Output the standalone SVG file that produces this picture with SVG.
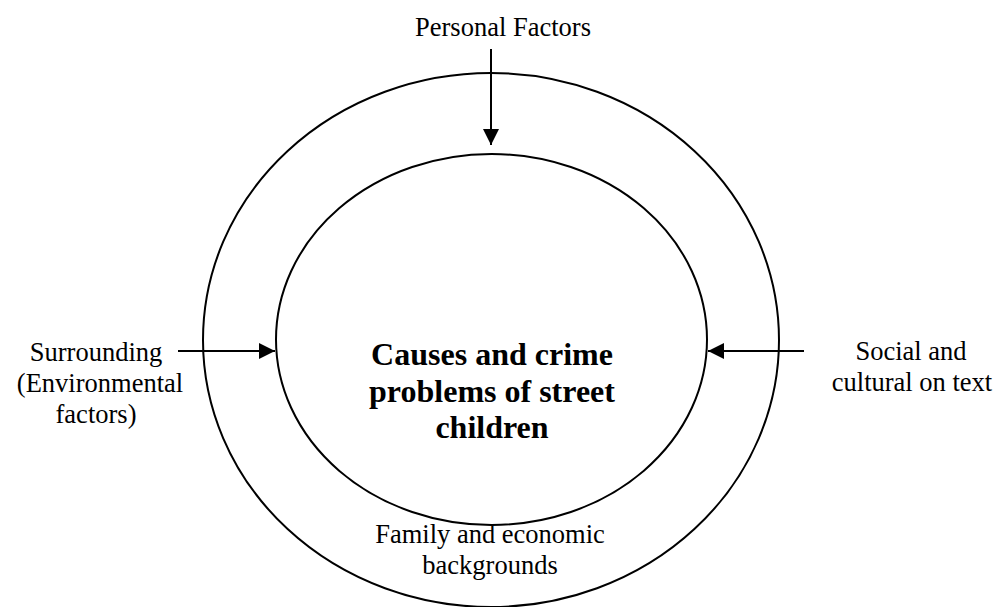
<svg xmlns="http://www.w3.org/2000/svg" width="995" height="607" viewBox="0 0 995 607">
<style>
.ring{fill:none;stroke:#000;stroke-width:2}
.lbl{font-family:"Liberation Serif","Times New Roman",serif;font-size:26.5px;fill:#000;text-anchor:middle}
.ttl{font-family:"Liberation Serif","Times New Roman",serif;font-size:32px;font-weight:bold;fill:#000;text-anchor:middle}
.arr{stroke:#000;stroke-width:2;fill:none;marker-end:url(#ah)}
</style>
<defs>
<marker id="ah" markerUnits="userSpaceOnUse" markerWidth="16" markerHeight="16" refX="16" refY="8" orient="auto">
<path d="M0,0 L16,8 L0,16 Z" fill="#000"/>
</marker>
</defs>
<rect width="995" height="607" fill="#fff"/>
<g id="outer">
<ellipse class="ring" cx="491" cy="340" rx="288" ry="267"/>
<text class="lbl" x="490" y="543">Family and economic</text>
<text class="lbl" x="490" y="574">backgrounds</text>
</g>
<g id="inner">
<ellipse class="ring" cx="491.5" cy="339.5" rx="215.5" ry="185.5"/>
<text class="ttl" x="492" y="365">Causes and crime</text>
<text class="ttl" x="492" y="402">problems of street</text>
<text class="ttl" x="492" y="438">children</text>
</g>
<g id="personal">
<text class="lbl" x="503" y="36">Personal Factors</text>
</g>
<g id="surrounding">
<text class="lbl" x="96" y="361">Surrounding</text>
<text class="lbl" x="100" y="392">(Environmental</text>
<text class="lbl" x="96" y="423">factors)</text>
</g>
<g id="social">
<text class="lbl" x="911" y="360">Social and</text>
<text class="lbl" x="912" y="391">cultural on text</text>
</g>
<g id="connectors">
<line class="arr" x1="491" y1="49" x2="491" y2="145"/>
<line class="arr" x1="178" y1="351" x2="275" y2="351"/>
<line class="arr" x1="804" y1="351" x2="708" y2="351"/>
</g>
</svg>
